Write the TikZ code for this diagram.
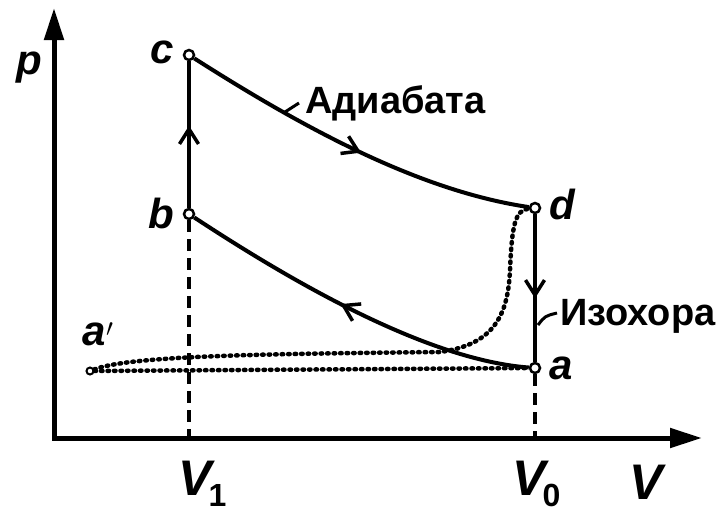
\documentclass[tikz,border=0pt]{standalone}
\usepackage{fontspec}
\setmainfont{Liberation Sans}
\usetikzlibrary{arrows.meta,decorations.markings,calc}
\tikzset{
  pv/axis/.style={line width=5pt, line cap=rect, -{Triangle[length=32pt,width=19pt]}},
  pv/curve/.style={line width=4pt},
  pv/guide/.style={line width=3.5pt, dash pattern=on 12pt off 7pt},
  pv/dots/.style={line width=4.5pt, line cap=round, dash pattern=on 1.5pt off 5pt},
  pv/point/.style={circle, draw, line width=2.5pt, fill=white, inner sep=0pt, minimum size=10pt},
  pv/label/.style={font=\fontsize{42}{46}\selectfont\bfseries\itshape, inner sep=0pt},
  pv/vlabel/.style={font=\fontsize{50}{54}\selectfont\bfseries\itshape, inner sep=0pt},
  pv/text/.style={font=\fontsize{38}{42}\selectfont\bfseries, inner sep=0pt, anchor=west},
  pv/tick/.style={line width=3pt},
  pv/mid/.style={postaction={decorate}, decoration={markings,
    mark=at position #1 with {\arrow{Straight Barb[length=15pt,width=19pt,line width=3.5pt]}}}},
  pv/mid/.default=0.5
}
\newcommand{\pvsub}[1]{\kern-3pt\raisebox{-11pt}{\fontsize{32}{34}\selectfont\upshape #1}}

\begin{document}
\begin{tikzpicture}[x=1pt,y=-1pt]
  \useasboundingbox (0,0) rectangle (721,517);
  % axes
  \coordinate (O) at (54,438);
  \coordinate (pmax) at (54,8);
  \coordinate (Vmax) at (702,438);
  \draw[pv/axis] (O) -- (pmax);
  \draw[pv/axis] (O) -- (Vmax);
  % states
  \node[pv/point] (c) at (189,55) {};
  \node[pv/point] (b) at (189,214) {};
  \node[pv/point] (d) at (535,208) {};
  \node[pv/point] (a) at (535,368) {};
  \node[pv/point, minimum size=7pt, line width=2pt] (a1) at (90,371) {};
  % guides and dotted path
  \draw[pv/guide] (b) -- (b |- O);
  \draw[pv/guide] (a) -- (a |- O);
  \draw[pv/dots] (a1) -- (a);
  \draw[pv/dots] (a1) .. controls (130,356) and (250,354) .. (440,352)
    .. controls (490,345) and (508,320) .. (510,270)
    .. controls (512,225) and (515,210) .. (d);
  % cycle
  \draw[pv/curve, pv/mid=0.56] (b) -- (c);
  \draw[pv/curve, pv/mid=0.52] (c) .. controls (305,129) and (420,191) .. (d);
  \draw[pv/curve, pv/mid=0.57] (d) -- (a);
  \draw[pv/curve, pv/mid=0.54] (a) .. controls (430,360) and (300,287) .. (b);
  % labels
  \node[pv/label] (p-lbl) at (29,68) {p};
  \node[pv/label] (c-lbl) at (162,52) {c};
  \node[pv/label] (b-lbl) at (161,213) {b};
  \node[pv/label] (d-lbl) at (562,204) {d};
  \node[pv/label] (a-lbl) at (561,368) {a};
  \node[pv/label] (a1-lbl) at (98,334) {a$'$};
  \node[pv/vlabel, anchor=west] (V1-lbl) at (178,484) {V\pvsub{1}};
  \node[pv/vlabel, anchor=west] (V0-lbl) at (512,484) {V\pvsub{0}};
  \node[pv/vlabel] (V-lbl) at (646,482) {V};
  % process names
  \node[pv/text] (adiab) at (305,103) {Адиабата};
  \coordinate (adiab-a) at (285,112);
  \coordinate (adiab-b) at (299,103);
  \draw[pv/tick] (adiab-a) -- (adiab-b);
  \node[pv/text] (izo) at (560,316) {Изохора};
  \coordinate (izo-a) at (538,325);
  \coordinate (izo-b) at (557,313);
  \draw[pv/tick] (izo-a) .. controls (545,316) .. (izo-b);
\end{tikzpicture}
\end{document}
